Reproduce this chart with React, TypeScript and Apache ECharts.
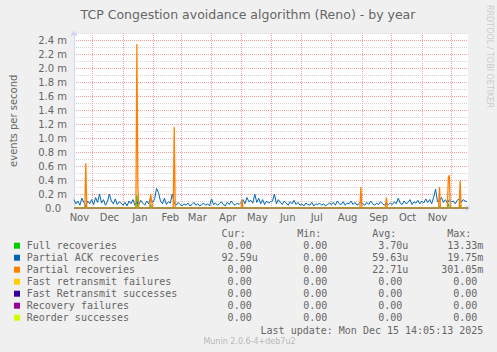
import React, { useEffect, useRef } from "react";
import * as echarts from "echarts";

// x values are days since 12 Nov 2024 (left edge of the plot)
const monthStartDays = [19, 50, 81, 109, 140, 170, 201, 231, 262, 293, 323, 354, 384];
const monthLabelDays = [5.5, 36, 67, 98, 125.5, 156.5, 186.5, 217.5, 247, 278.5, 310, 339.5, 370];
const monthLabels = ["Nov", "Dec", "Jan", "Feb", "Mar", "Apr", "May", "Jun", "Jul", "Aug", "Sep", "Oct", "Nov"];

// Partial ACK recoveries, one value every 2 days starting day 0 (milli events/s)
const partialAckValues = [
  0.12, 0.06, 0.1, 0.04, 0.14, 0.08, 0.03, 0.1, 0.06, 0.12,
  0.05, 0.15, 0.08, 0.2, 0.07, 0.12, 0.04, 0.09, 0.2, 0.1, 0.06, 0.13, 0.05, 0.09, 0.07,
  0.04, 0.08, 0.03, 0.1, 0.06, 0.12, 0.04, 0.09, 0.05, 0.11, 0.07, 0.04, 0.1, 0.06, 0.15, 0.08,
  0.12, 0.28, 0.22, 0.1, 0.06, 0.14, 0.05, 0.09, 0.07, 0.2, 0.07, 0.04, 0.08, 0.05,
  0.03, 0.06, 0.04, 0.07, 0.03, 0.05, 0.08, 0.04, 0.06, 0.03, 0.05, 0.07, 0.04, 0.06, 0.03,
  0.13, 0.05, 0.07, 0.04, 0.06, 0.09, 0.05, 0.03, 0.08, 0.05, 0.1, 0.06, 0.04, 0.07, 0.05,
  0.08, 0.12, 0.06, 0.15, 0.09, 0.11, 0.07, 0.2, 0.08, 0.14, 0.06, 0.12, 0.05, 0.1, 0.07, 0.09,
  0.1, 0.2, 0.06, 0.12, 0.08, 0.05, 0.1, 0.07, 0.04, 0.09, 0.06, 0.11, 0.05, 0.08, 0.04,
  0.06, 0.03, 0.07, 0.05, 0.04, 0.08, 0.03, 0.06, 0.05, 0.07, 0.04, 0.06, 0.03, 0.05, 0.07,
  0.05, 0.08, 0.04, 0.1, 0.06, 0.05, 0.09, 0.04, 0.07, 0.06, 0.1, 0.05, 0.08, 0.04, 0.06, 0.09,
  0.06, 0.04, 0.08, 0.05, 0.1, 0.06, 0.04, 0.07, 0.05, 0.09, 0.06, 0.04, 0.08, 0.05, 0.07,
  0.05, 0.09, 0.06, 0.14, 0.07, 0.05, 0.1, 0.06, 0.08, 0.12, 0.05, 0.09, 0.07, 0.11, 0.06,
  0.1, 0.07, 0.13, 0.08, 0.12, 0.06, 0.15, 0.27, 0.09, 0.1, 0.15, 0.08, 0.12, 0.07, 0.12, 0.09,
  0.1, 0.06, 0.11, 0.13, 0.08, 0.12, 0.1, 0.09,
];

// Partial recoveries spikes: [day, value]
const partialSpikes: [number, number][] = [
  [12, 0.64], [64, 2.35], [65, 0.3], [78, 0.2], [79, 0.1], [102, 1.16], [171, 0.12],
  [292, 0.3], [318, 0.15], [372, 0.3], [381, 0.44], [382, 0.47], [393, 0.39],
];
// Full recoveries spikes: [day, value]
const fullSpikes: [number, number][] = [
  [12, 0.03], [64, 0.18], [78, 0.05], [372, 0.03], [381, 0.06], [393, 0.04],
];

const seriesNames = [
  "Full recoveries", "Partial ACK recoveries", "Partial recoveries", "Fast retransmit failures",
  "Fast Retransmit successes", "Recovery failures", "Reorder successes",
];
const seriesColors = ["#00cc00", "#0066b3", "#ff8000", "#ffcc00", "#330099", "#990099", "#ccff00"];
const curValues = ["0.00", "92.59u", "0.00", "0.00", "0.00", "0.00", "0.00"];
const minValues = ["0.00", "0.00", "0.00", "0.00", "0.00", "0.00", "0.00"];
const avgValues = ["3.70u", "59.63u", "22.71u", "0.00", "0.00", "0.00", "0.00"];
const maxValues = ["13.33m", "19.75m", "301.05m", "0.00", "0.00", "0.00", "0.00"];

const TOTAL_DAYS = 401;

function dailyFromSpikes(spikes: [number, number][]) {
  const m = new Map<number, number>(spikes);
  const out: [number, number][] = [];
  for (let d = 0; d <= TOTAL_DAYS; d++) out.push([d, m.get(d) ?? 0]);
  return out;
}

export default function App() {
  const ref = useRef<HTMLDivElement>(null);
  useEffect(() => {
    document.body.style.margin = "0";
    document.body.style.background = "#f0f0f0";
    const chart = echarts.init(ref.current!, null, { renderer: "svg" });
    const FONT = "#666666";
    const mono = "DejaVu Sans Mono";
    const sans = "DejaVu Sans";

    const graphics: any[] = [];
    graphics.push({
      type: "text", x: 248, y: 14,
      style: { text: "TCP Congestion avoidance algorithm (Reno) - by year", fill: FONT, font: `12.5px '${sans}'`, textAlign: "center", textVerticalAlign: "middle" },
    });
    graphics.push({
      type: "text", x: 489, y: 56.5, rotation: -Math.PI / 2,
      style: { text: "RRDTOOL / TOBI OETIKER", fill: "#cccccc", font: `8px '${sans}'`, textAlign: "center", textVerticalAlign: "middle" },
    });
    const rowY0 = 245.7, rowStep = 12;
    const cols = [
      { vals: curValues, x: 251.7, head: "Cur:" },
      { vals: minValues, x: 327.3, head: "Min:" },
      { vals: avgValues, x: 402.3, head: "Avg:" },
      { vals: maxValues, x: 477.3, head: "Max:" },
    ];
    cols.forEach((c) => {
      graphics.push({
        type: "text", x: c.x - 6, y: 233.3,
        style: { text: c.head, fill: FONT, font: `10px '${mono}'`, textAlign: "right", textVerticalAlign: "middle" },
      });
    });
    seriesNames.forEach((name, i) => {
      const y = rowY0 + i * rowStep;
      graphics.push({ type: "rect", shape: { x: 14, y: y - 3, width: 6, height: 6 }, style: { fill: seriesColors[i] } });
      graphics.push({
        type: "text", x: 26.7, y,
        style: { text: name, fill: FONT, font: `10px '${mono}'`, textAlign: "left", textVerticalAlign: "middle" },
      });
      cols.forEach((c) => {
        const s = c.vals[i];
        const mt = s.match(/^([\d.]+)([a-zA-Z]?)$/)!;
        graphics.push({
          type: "text", x: c.x, y,
          style: { text: mt[1], fill: FONT, font: `10px '${mono}'`, textAlign: "right", textVerticalAlign: "middle" },
        });
        if (mt[2]) {
          graphics.push({
            type: "text", x: c.x, y,
            style: { text: mt[2], fill: FONT, font: `10px '${mono}'`, textAlign: "left", textVerticalAlign: "middle" },
          });
        }
      });
    });
    graphics.push({
      type: "text", x: 483.3, y: 330,
      style: { text: "Last update: Mon Dec 15 14:05:13 2025", fill: FONT, font: `10px '${mono}'`, textAlign: "right", textVerticalAlign: "middle" },
    });
    graphics.push({
      type: "text", x: 249.5, y: 341,
      style: { text: "Munin 2.0.6-4+deb7u2", fill: "#b8b8b8", font: `8px '${sans}'`, textAlign: "center", textVerticalAlign: "middle" },
    });

    const lineData = [
      dailyFromSpikes(fullSpikes),
      partialAckValues.map((v, i) => [i * 2, v]),
      dailyFromSpikes(partialSpikes),
      [[0, 0], [TOTAL_DAYS, 0]],
      [[0, 0], [TOTAL_DAYS, 0]],
      [[0, 0], [TOTAL_DAYS, 0]],
      [[0, 0], [TOTAL_DAYS, 0]],
    ];

    chart.setOption({
      animation: false,
      backgroundColor: "#f0f0f0",
      grid: { left: 67, right: 29, top: 33.5, bottom: 144, show: true, backgroundColor: "#ffffff", borderWidth: 0 },
      xAxis: {
        type: "value", min: 0, max: TOTAL_DAYS,
        axisLine: { show: true, lineStyle: { color: "#CFD6F8", width: 1 }, symbol: ["none", "arrow"], symbolSize: [6, 6], symbolOffset: [0, 3] },
        axisTick: { show: false },
        splitLine: { show: false },
        axisLabel: {
          customValues: monthLabelDays,
          margin: 4,
          color: FONT, fontFamily: sans, fontSize: 10,
          formatter: (v: number) => {
            let best = 0;
            monthLabelDays.forEach((d, i) => { if (Math.abs(d - v) < Math.abs(monthLabelDays[best] - v)) best = i; });
            return monthLabels[best];
          },
        },
      },
      yAxis: {
        type: "value", min: 0, max: 2.5, interval: 0.1,
        name: "events per second", nameLocation: "middle", nameRotate: 90, nameGap: 56,
        nameTextStyle: { color: FONT, fontFamily: sans, fontSize: 10 },
        axisLine: { show: true, lineStyle: { color: "#CFD6F8", width: 1 }, symbol: ["none", "arrow"], symbolSize: [6, 6], symbolOffset: [0, 3] },
        axisTick: { show: false },
        splitLine: { show: true, lineStyle: { color: ["#f2a0a0", "#d6d6d6"], type: [1, 1], width: 1 } },
        axisLabel: {
          margin: 7, color: FONT, fontFamily: sans, fontSize: 10,
          formatter: (v: number) => {
            const k = Math.round(v * 10);
            if (k % 2) return "";
            if (k === 0) return "{z|0.0}";
            return (k / 10).toFixed(1) + " m";
          },
          rich: { z: { padding: [0, 6, 0, 0], color: FONT, fontFamily: sans, fontSize: 10 } },
        },
      },
      series: seriesNames.map((name, i) => ({
        name, type: "line", data: lineData[i], symbol: "none", showSymbol: false,
        lineStyle: { color: seriesColors[i], width: i === 2 ? 1.3 : 1 },
        itemStyle: { color: seriesColors[i] },
        silent: true,
        ...(i === 0
          ? {
              markLine: {
                silent: true, symbol: ["none", "none"], label: { show: false },
                lineStyle: { color: "#f2a0a0", type: [1, 1], width: 1 },
                data: monthStartDays.map((d) => ({ xAxis: d })),
                z: 1,
              },
            }
          : {}),
      })),
      graphic: graphics,
    });
    return () => chart.dispose();
  }, []);
  return <div ref={ref} style={{ width: 497, height: 352, background: "#f0f0f0" }} />;
}
